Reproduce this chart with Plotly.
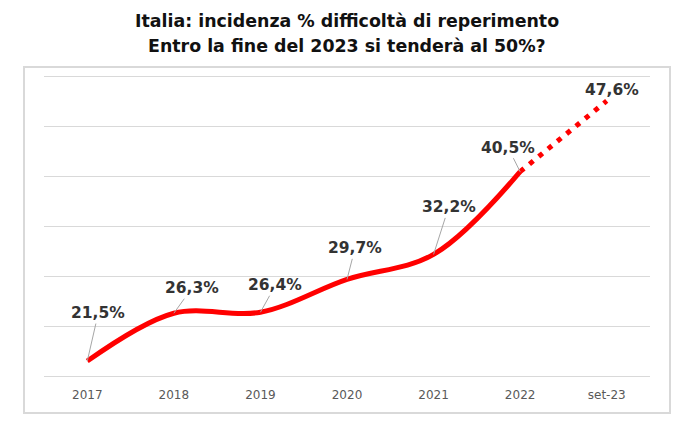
import plotly.graph_objects as go

categories = ["2017", "2018", "2019", "2020", "2021", "2022", "set-23"]
actual_values = [21.5, 26.3, 26.4, 29.7, 32.2, 40.5]
forecast_categories = ["2022", "set-23"]
forecast_values = [40.5, 47.6]
label_texts = ["21,5%", "26,3%", "26,4%", "29,7%", "32,2%", "40,5%", "47,6%"]
all_values = actual_values + [forecast_values[-1]]

title_line1 = "Italia: incidenza % difficoltà di reperimento"
title_line2 = "Entro la fine del 2023 si tenderà al 50%?"

PLOT_TOP, PLOT_BOTTOM = 75, 378
PLOT_H = PLOT_BOTTOM - PLOT_TOP


def py(pixel_y):
    return (PLOT_BOTTOM - pixel_y) / PLOT_H


fig = go.Figure()
fig.add_trace(go.Scatter(
    x=categories[:len(actual_values)], y=actual_values, mode="lines",
    line=dict(color="#ff0000", width=5, shape="spline", smoothing=1),
    hoverinfo="skip", showlegend=False))
fig.add_trace(go.Scatter(
    x=forecast_categories, y=forecast_values, mode="lines",
    line=dict(color="#ff0000", width=5, dash="5px,7px"),
    hoverinfo="skip", showlegend=False))

offsets = [(11, -48), (18, -25), (15, -27), (8, -31), (15, -47), (-12, -24), (5, -11)]
label_font = dict(family="DejaVu Sans, Verdana, sans-serif", size=15.5, color="#333333")
for i, (val, txt) in enumerate(zip(all_values, label_texts)):
    ax, ay = offsets[i]
    last = i == len(categories) - 1
    fig.add_annotation(
        x=i, y=val, xref="x", yref="y", text="<b>%s</b>" % txt,
        showarrow=True, arrowhead=0, arrowwidth=1,
        arrowcolor="rgba(0,0,0,0)" if last else "#a6a6a6",
        ax=ax, ay=ay, font=label_font)

fig.add_shape(type="rect", xref="paper", yref="paper",
              x0=-20 / 606, x1=1 + 20 / 606, y0=py(413), y1=py(67),
              line=dict(color="#d9d9d9", width=2), fillcolor="rgba(0,0,0,0)", layer="below")

title_font = dict(family="DejaVu Sans, Verdana, sans-serif", size=17.4, color="#111111")
fig.add_annotation(x=0.5, y=py(21), xref="paper", yref="paper", text="<b>%s</b>" % title_line1,
                   showarrow=False, font=title_font, yanchor="middle")
fig.add_annotation(x=0.5, y=py(46), xref="paper", yref="paper", text="<b>%s</b>" % title_line2,
                   showarrow=False, font=title_font, yanchor="middle")

fig.update_layout(
    width=696, height=434,
    margin=dict(l=44, r=46, t=PLOT_TOP, b=434 - PLOT_BOTTOM, autoexpand=False),
    paper_bgcolor="white", plot_bgcolor="white",
    xaxis=dict(type="category", categoryorder="array", categoryarray=categories,
               range=[-0.5, 6.5], showgrid=False, zeroline=False, showline=False,
               ticks="", ticklabelstandoff=8,
               tickfont=dict(family="DejaVu Sans, Verdana, sans-serif", size=12, color="#595959")),
    yaxis=dict(range=[19.8, 50.2], dtick=5, tick0=20, showgrid=True, gridcolor="#d9d9d9", gridwidth=1,
               showticklabels=False, zeroline=False, showline=False, ticks=""),
)

fig.write_html("out.html", config={"displayModeBar": False},
               post_script="document.body.style.margin='0';document.body.style.padding='0';")
